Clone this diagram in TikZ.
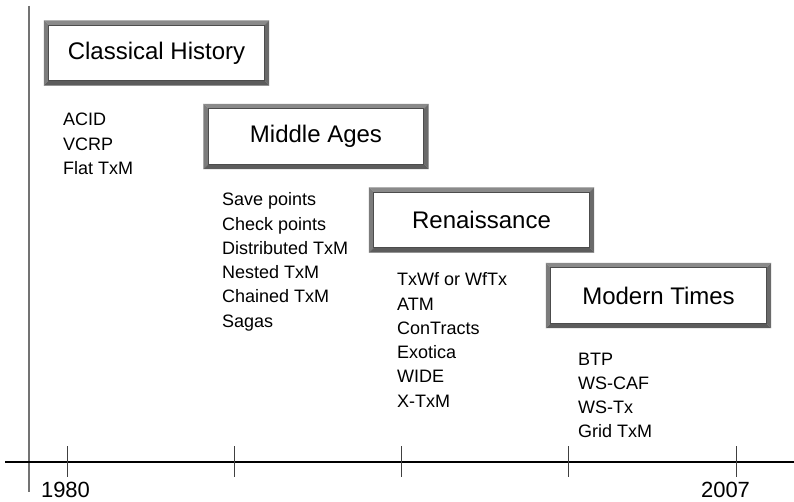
\documentclass[tikz,border=0pt]{standalone}
\usepackage{fontspec}
\setmainfont{Liberation Sans}
\definecolor{bvtop}{HTML}{8A8A8A}
\definecolor{bvleft}{HTML}{7C7C7C}
\definecolor{bvright}{HTML}{6A6A6A}
\definecolor{bvbottom}{HTML}{5C5C5C}
\newcommand\bevelframe[1]{%
  \fill[bvtop] (#1.north west) -- (#1.north east) -- ([xshift=-5pt,yshift=-5pt]#1.north east) -- ([xshift=5pt,yshift=-5pt]#1.north west) -- cycle;
  \fill[bvleft] (#1.north west) -- ([xshift=5pt,yshift=-5pt]#1.north west) -- ([xshift=5pt,yshift=5pt]#1.south west) -- (#1.south west) -- cycle;
  \fill[bvright] (#1.north east) -- (#1.south east) -- ([xshift=-5pt,yshift=5pt]#1.south east) -- ([xshift=-5pt,yshift=-5pt]#1.north east) -- cycle;
  \fill[bvbottom] (#1.south west) -- ([xshift=5pt,yshift=5pt]#1.south west) -- ([xshift=-5pt,yshift=5pt]#1.south east) -- (#1.south east) -- cycle;
  \draw[line width=0.8pt,black!70] ([xshift=5pt,yshift=-5pt]#1.north west) rectangle ([xshift=-5pt,yshift=5pt]#1.south east);
}
\begin{document}
\begin{tikzpicture}[x=1pt,y=-1pt,
  period/.style={minimum width=225pt,minimum height=65pt,inner sep=0pt,fill=white,font=\fontsize{24}{28}\selectfont},
  item/.style={anchor=base west,inner sep=0pt,font=\fontsize{18}{20}\selectfont},
  year/.style={anchor=base,inner sep=0pt,font=\fontsize{22}{24}\selectfont},
  tick/.style={line width=1pt,black!75}]
\useasboundingbox[fill=white] (0,0) rectangle (794,502);

% axes
\coordinate (vtop) at (29,6);
\coordinate (vbot) at (29,492);
\coordinate (hl) at (5,462);
\coordinate (hr) at (794,462);
\draw[line width=1.5pt,black!55] (vtop) -- (vbot);
\draw[line width=1.2pt,black] (hl) -- (hr);
\foreach \x in {67,234,401,568,736}{
  \draw[tick] (\x,446) -- (\x,477);
}
\node[year] (y1980) at (65.5,497) {1980};
\node[year] (y2007) at (725.5,497) {2007};

% periods
\node[period] (classical) at (156.5,53) {Classical History};
\bevelframe{classical}
\node[period] (middle) at (316,136.5) {Middle Ages};
\bevelframe{middle}
\node[period] (renaissance) at (481.5,220) {Renaissance};
\bevelframe{renaissance}
\node[period] (modern) at (658.5,295.5) {Modern Times};
\bevelframe{modern}

% items
\node[item] (acid) at (63,126) {ACID};
\node[item] (vcrp) at (63,150.5) {VCRP};
\node[item] (flat) at (63,175) {Flat TxM};

\node[item] (save) at (222,206) {Save points};
\node[item] (check) at (222,230.2) {Check points};
\node[item] (dist) at (222,254.4) {Distributed TxM};
\node[item] (nested) at (222,278.6) {Nested TxM};
\node[item] (chained) at (222,302.8) {Chained TxM};
\node[item] (sagas) at (222,327) {Sagas};

\node[item] (txwf) at (397,286) {TxWf or WfTx};
\node[item] (atm) at (397,310.2) {ATM};
\node[item] (contracts) at (397,334.4) {ConTracts};
\node[item] (exotica) at (397,358.6) {Exotica};
\node[item] (wide) at (397,382.8) {WIDE};
\node[item] (xtxm) at (397,407) {X-TxM};

\node[item] (btp) at (578,365) {BTP};
\node[item] (wscaf) at (578,389) {WS-CAF};
\node[item] (wstx) at (578,413) {WS-Tx};
\node[item] (grid) at (578,437) {Grid TxM};
\end{tikzpicture}
\end{document}
